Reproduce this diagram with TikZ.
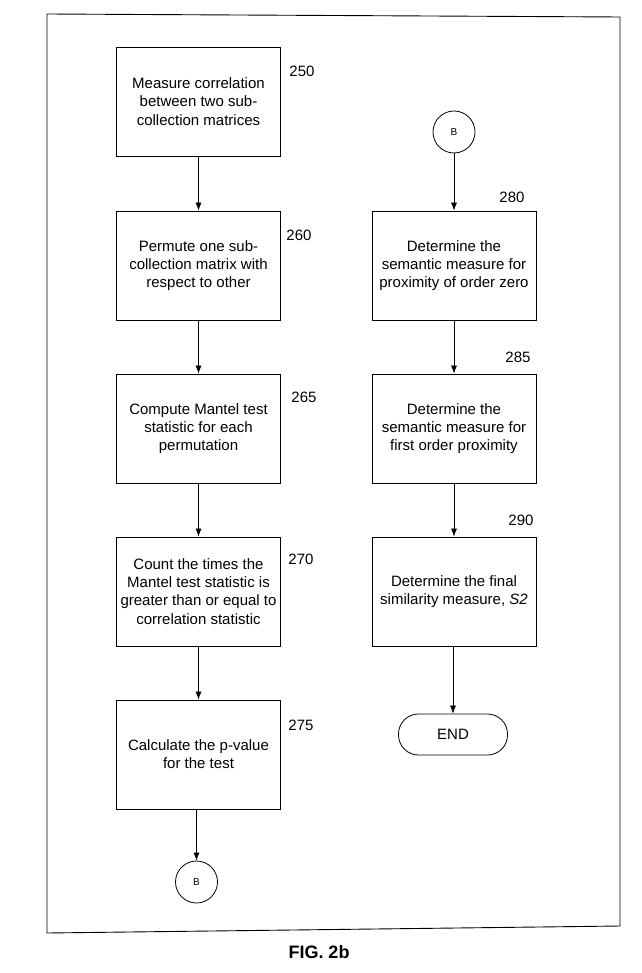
\documentclass[tikz,border=0pt]{standalone}
\usepackage{fontspec}
\setmainfont{Liberation Sans}
\usetikzlibrary{arrows.meta}
\begin{document}
\begin{tikzpicture}[x=1pt,y=-1pt,
  line width=0.8pt,
  stepbox/.style={draw, rectangle, minimum width=164pt, minimum height=109pt, align=center, inner sep=2pt,
    font=\fontsize{15}{18.2}\selectfont},
  conn/.style={draw, circle, minimum size=42pt, inner sep=0pt, font=\fontsize{10}{12}\selectfont},
  endbox/.style={draw, rectangle, rounded corners=20pt, minimum width=109pt, minimum height=41pt, font=\fontsize{15}{18}\selectfont},
  reflabel/.style={font=\fontsize{15}{18}\selectfont, inner sep=0pt},
  flow/.style={-{Latex[length=8pt,width=6pt]}, line width=0.7pt}
]
\useasboundingbox (0,0) rectangle (641,973);
% frame
\draw[line width=0.9pt] (47,14) -- (620,17) -- (620,926) -- (47,933) -- cycle;

% left column
\node[stepbox] (b250) at (198.5,101.5) {Measure correlation\\between two sub-\\collection matrices};
\node[stepbox] (b260) at (198.5,265.5) {Permute one sub-\\collection matrix with\\respect to other};
\node[stepbox] (b265) at (198.5,428.5) {Compute Mantel test\\statistic for each\\permutation};
\node[stepbox] (b270) at (198.5,591.5) {Count the times the\\Mantel test statistic is\\greater than or equal to\\correlation statistic};
\node[stepbox] (b275) at (198.5,754.5) {Calculate the p-value\\for the test};
\node[conn] (bL) at (196.5,882) {B};

% right column
\node[conn] (bR) at (454,132) {B};
\node[stepbox] (b280) at (454,265.5) {Determine the\\semantic measure for\\proximity of order zero};
\node[stepbox] (b285) at (454,428.5) {Determine the\\semantic measure for\\first order proximity};
\node[stepbox] (b290) at (454,591.5) {Determine the final\\similarity measure, \textit{S2}};
\node[endbox] (end) at (453,734.5) {END};

% reference numbers
\node[reflabel] (n250) at (302,71) {250};
\node[reflabel] (n260) at (299,235) {260};
\node[reflabel] (n265) at (304,397) {265};
\node[reflabel] (n270) at (301,559) {270};
\node[reflabel] (n275) at (301,725) {275};
\node[reflabel] (n280) at (512,197) {280};
\node[reflabel] (n285) at (518,357) {285};
\node[reflabel] (n290) at (521,520) {290};

% connectors
\draw[flow] (b250) -- (b260);
\draw[flow] (b260) -- (b265);
\draw[flow] (b265) -- (b270);
\draw[flow] (b270) -- (b275);
\draw[flow] (b275.south -| bL) -- (bL);
\draw[flow] (bR) -- (b280);
\draw[flow] (b280) -- (b285);
\draw[flow] (b285) -- (b290);
\draw[flow] (b290.south -| end) -- (end);

% caption
\node[font=\bfseries\fontsize{18}{22}\selectfont] (cap) at (319,952) {FIG. 2b};
\end{tikzpicture}
\end{document}
